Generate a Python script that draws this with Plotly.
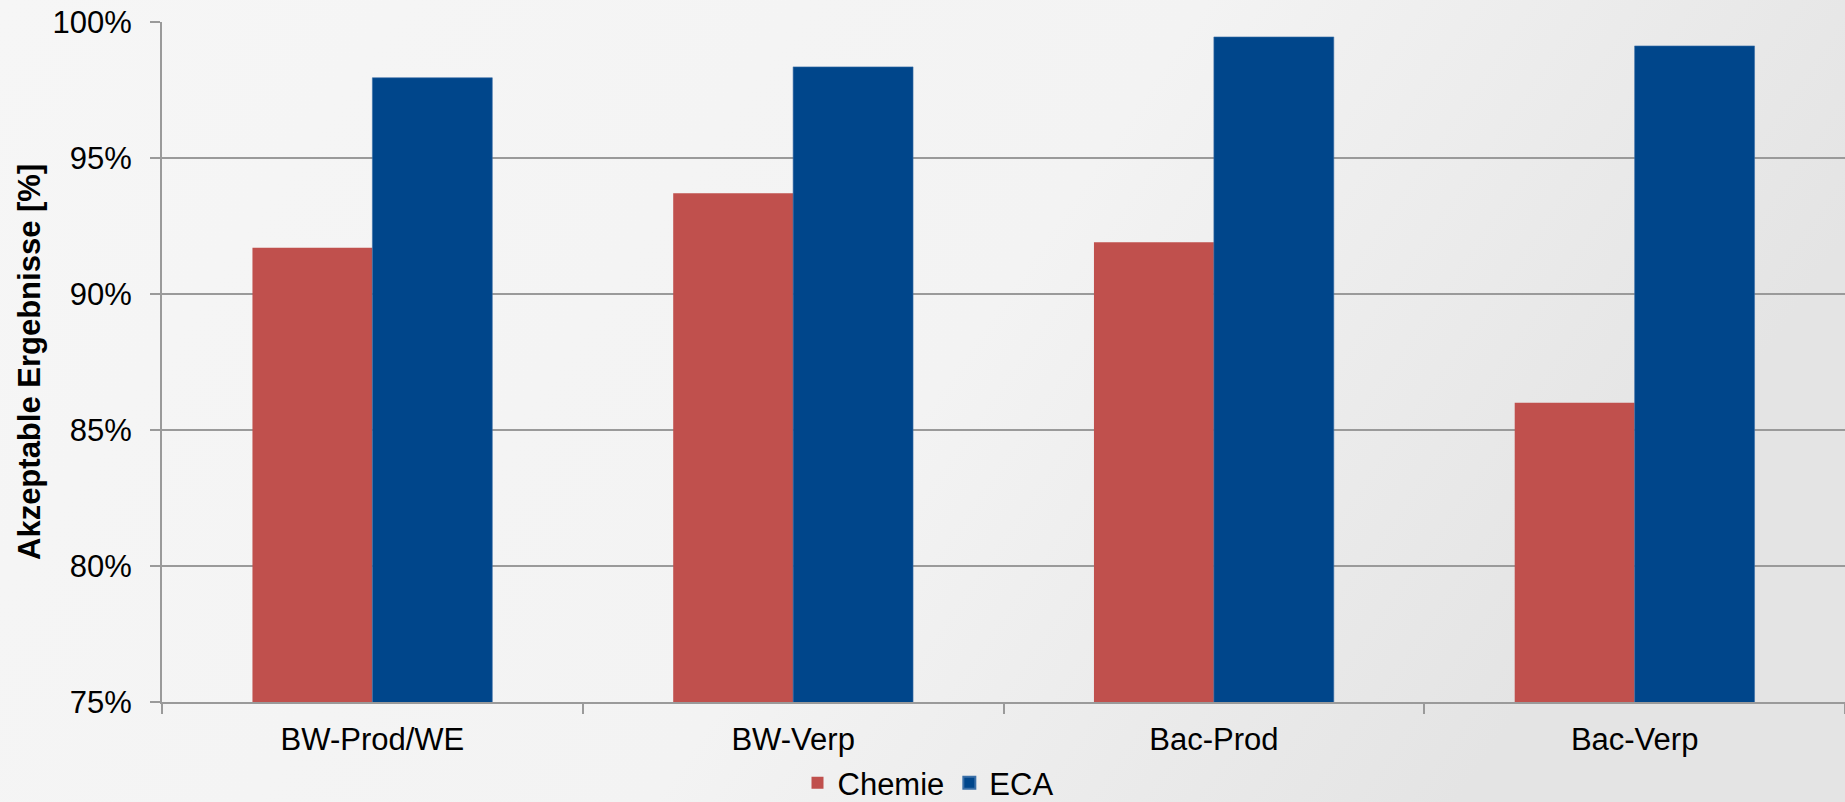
import base64
import plotly.graph_objects as go

categories = ["BW-Prod/WE", "BW-Verp", "Bac-Prod", "Bac-Verp"]
chemie = [91.7, 93.7, 91.9, 86.0]
eca = [97.95, 98.35, 99.45, 99.12]
y_ticks = [75, 80, 85, 90, 95, 100]
y_tick_labels = ["75%", "80%", "85%", "90%", "95%", "100%"]

W, H = 1845, 802
ML, MR, MT, MB = 162, 0, 22, 100
pw, ph = W - ML - MR, H - MT - MB

svg = (
    '<svg xmlns="http://www.w3.org/2000/svg" width="1845" height="802" preserveAspectRatio="none">'
    '<defs><linearGradient id="g" x1="0" y1="0" x2="1" y2="0.3">'
    '<stop offset="0" stop-color="#f6f6f6"/><stop offset="0.6" stop-color="#f3f3f3"/>'
    '<stop offset="1" stop-color="#e4e4e4"/></linearGradient></defs>'
    '<rect width="1845" height="802" fill="url(#g)"/></svg>'
)
src = "data:image/svg+xml;base64," + base64.b64encode(svg.encode()).decode()

font = "Liberation Sans, Arial, sans-serif"
FS = 31

fig = go.Figure()
fig.add_trace(go.Bar(name="Chemie", x=categories, y=chemie,
                     marker=dict(color="#C0504D", line=dict(width=0))))
fig.add_trace(go.Bar(name="ECA", x=categories, y=eca,
                     marker=dict(color="#00468B", line=dict(width=0.6, color="#3a6fa8"))))

fig.update_layout(
    width=W, height=H,
    margin=dict(l=ML, r=MR, t=MT, b=MB, pad=0, autoexpand=False),
    barmode="group", bargap=0.43, bargroupgap=0,
    paper_bgcolor="#f3f3f3", plot_bgcolor="rgba(0,0,0,0)",
    font=dict(family=font, size=FS, color="#000000"),
    showlegend=True,
    legend=dict(orientation="h", x=(928 - ML) / pw, xanchor="center",
                y=(MT + ph - 783) / ph, yanchor="middle",
                font=dict(size=FS), bgcolor="rgba(0,0,0,0)",
                itemsizing="constant", traceorder="normal"),
    images=[dict(source=src, xref="paper", yref="paper",
                 x=-ML / pw, y=(MT + ph) / ph, sizex=W / pw, sizey=H / ph,
                 xanchor="left", yanchor="top", sizing="stretch", layer="below")],
    xaxis=dict(
        automargin=False,
        showline=True, linecolor="#9a9a9a", linewidth=2,
        ticks="outside", tickson="boundaries", ticklen=10, tickcolor="#9a9a9a",
        tickwidth=1.5, showgrid=False, ticklabelstandoff=9,
        tickfont=dict(size=FS, family=font, color="#000000"),
    ),
    yaxis=dict(
        automargin=False,
        range=[75, 100], tickvals=y_ticks, ticktext=y_tick_labels,
        showline=True, linecolor="#9a9a9a", linewidth=2,
        ticks="outside", ticklen=10, tickcolor="#9a9a9a", tickwidth=1.5,
        showgrid=True, gridcolor="#9a9a9a", gridwidth=1.5,
        zeroline=False, ticklabelstandoff=12,
        tickfont=dict(size=FS, family=font, color="#000000"),
    ),
    annotations=[dict(text="<b>Akzeptable Ergebnisse [%]</b>", textangle=-90,
                      xref="paper", yref="paper", x=(29 - ML) / pw, y=(MT + ph - 362) / ph,
                      xanchor="center", yanchor="middle", showarrow=False,
                      font=dict(size=FS, family=font, color="#000000"))],
)

fig.write_html("out.html")
